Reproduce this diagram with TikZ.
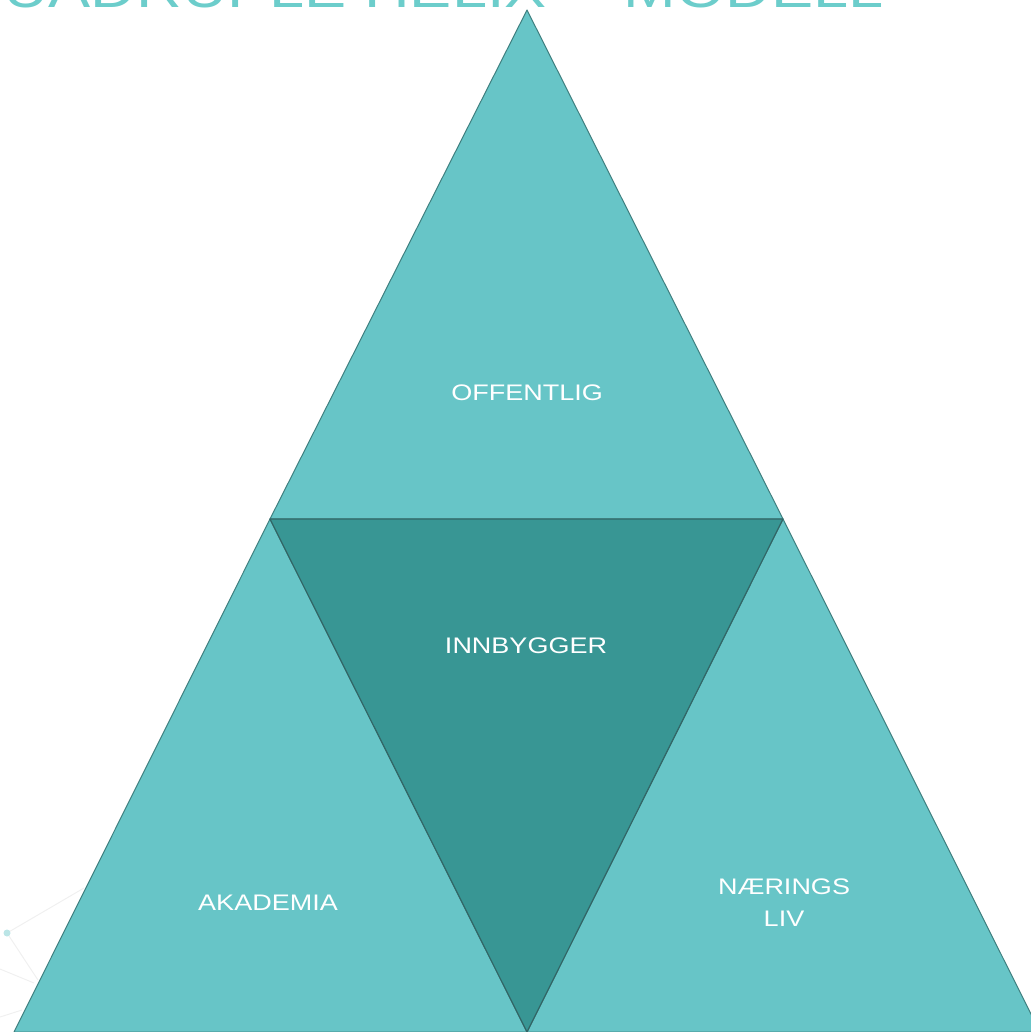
\documentclass[tikz,border=0pt]{standalone}
\usepackage{fontspec}
\usepackage{tikz}
\usetikzlibrary{positioning}
\usetikzlibrary{calc}

\newfontfamily\labelfont{Liberation Sans}[FakeStretch=1.2]

\definecolor{tealLight}{HTML}{67C5C7}
\definecolor{tealDark}{HTML}{389694}
\definecolor{tealEdge}{HTML}{3F7F7F}
\definecolor{tealTitle}{HTML}{6CCDCB}

\tikzset{
    face/.style={fill=tealLight, draw=tealEdge, line width=0.5pt, line join=round},
    midface/.style={fill=tealDark, draw=tealEdge!80!black, line width=0.6pt, line join=round},
    lbl/.style={text=white, inner sep=0pt, align=center, font=\labelfont\fontsize{11.25}{16}\selectfont},
    net/.style={draw=gray!12, line width=0.5pt}
}

\begin{document}
\begin{tikzpicture}[x=0.5pt, y=-0.5pt]

    \useasboundingbox (0,0) rectangle (1030,1032);

    % hjoerner
    \coordinate (top) at (527,10);
    \coordinate (ml) at (270,519);
    \coordinate (mr) at (783,519);
    \coordinate (bl) at (14,1032);
    \coordinate (bm) at (527,1032);
    \coordinate (br) at (1040,1032);

    % nettverk i bakgrunnen
    \coordinate (n1) at (7,933);
    \draw[net] (n1) -- (84,888) (n1) -- (38,980);
    \draw[net] (0,969) -- (34,983) (0,1017) -- (22,1010);
    \fill[tealLight!45] (n1) circle (3.5);

    % tittel
    \node[anchor=base east, inner sep=0pt, text=tealTitle,
          font=\labelfont\fontsize{26.3}{30}\selectfont] (title) at (884,8)
          {QUADRUPLE HELIX -- MODELL};

    % trekanter
    \draw[face] (top) -- (mr) -- (ml) -- cycle;
    \draw[face] (ml) -- (bm) -- (bl) -- cycle;
    \draw[face] (mr) -- (br) -- (bm) -- cycle;
    \draw[midface] (ml) -- (mr) -- (bm) -- cycle;

    % tekster
    \node[lbl] (offentlig) at (527,393) {OFFENTLIG};
    \node[lbl] (innbygger) at (526,646) {INNBYGGER};
    \node[lbl] (akademia) at (268,903) {AKADEMIA};
    \node[lbl] (naering) at (784,903) {NÆRINGS\\LIV};
\end{tikzpicture}
\end{document}
